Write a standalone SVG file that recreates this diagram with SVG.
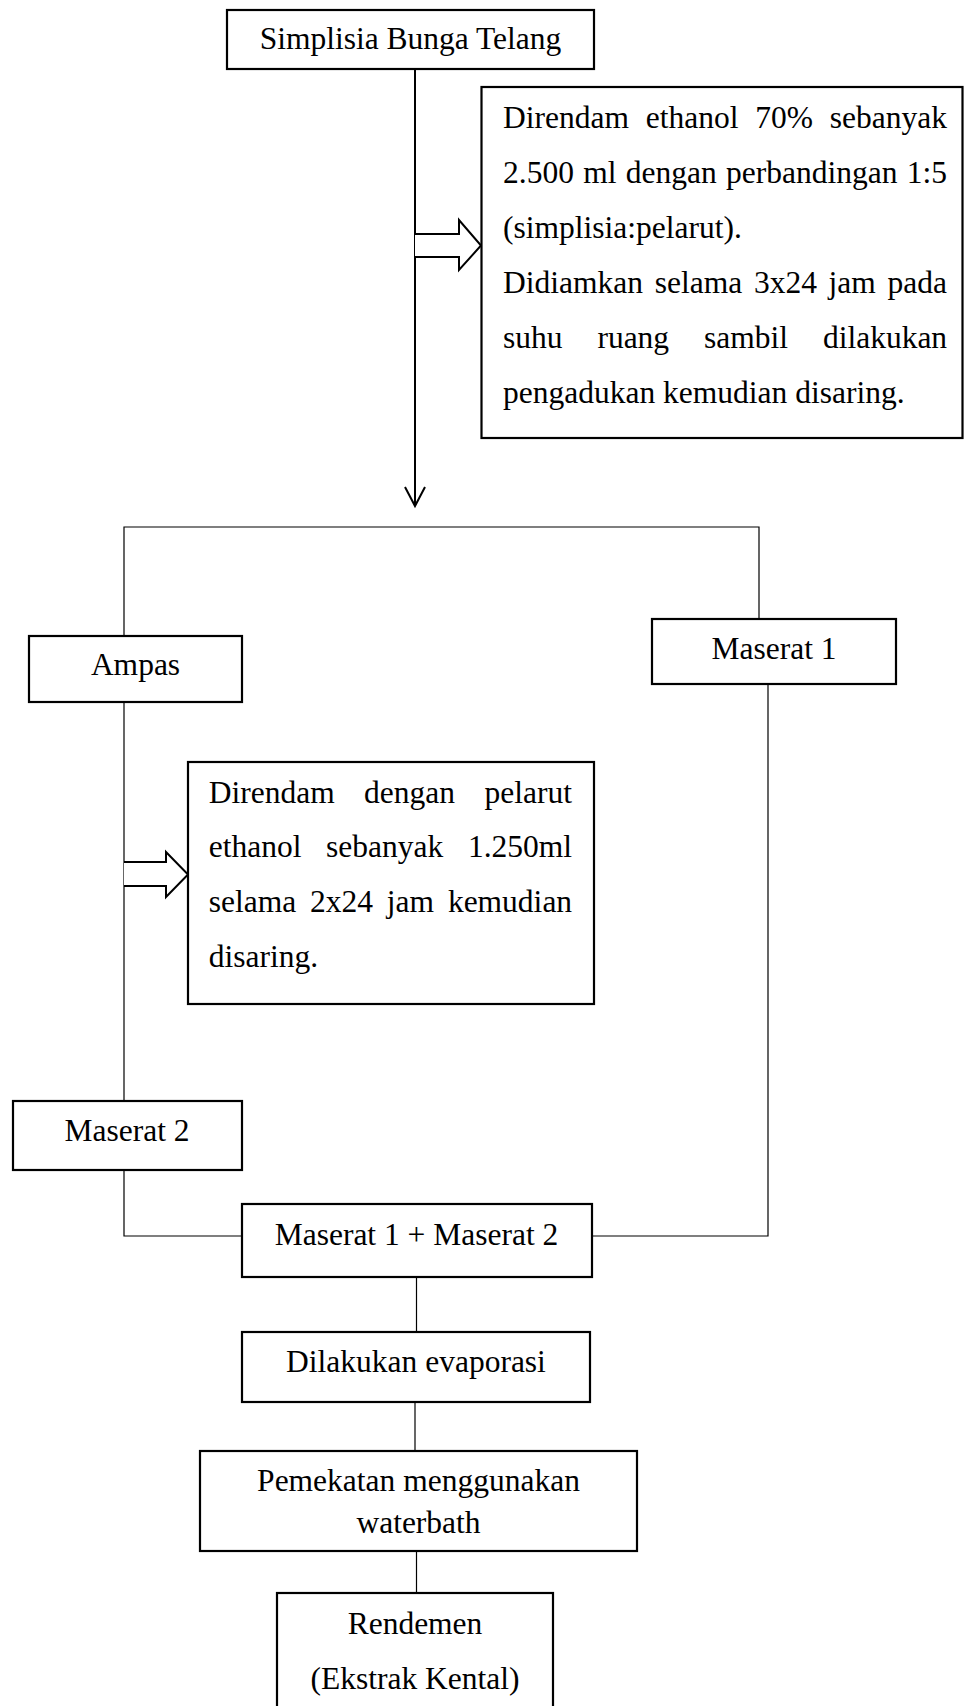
<svg xmlns="http://www.w3.org/2000/svg" width="965" height="1706" viewBox="0 0 965 1706">
<style>
.box{fill:#fff;stroke:#000;stroke-width:2.2}
.thin{fill:none;stroke:#000;stroke-width:1.2}
.thick{fill:none;stroke:#000;stroke-width:2}
.harrow{fill:#fff;stroke:#000;stroke-width:2}
text{font-family:"Liberation Serif","Times New Roman",serif;font-size:31.5px;fill:#000}
.c{text-anchor:middle}
</style>
<rect width="965" height="1706" fill="#fff"/>
<g id="connectors">
<line class="thick" x1="415" y1="69" x2="415" y2="506"/>
<polyline class="thick" points="405,487 415,506 425,487"/>
<path class="harrow" d="M415,234 H459 V220 L481,245.5 L459,270 V257 H415"/>
<polyline class="thin" points="124,635 124,527 759,527 759,619"/>
<line class="thin" x1="124" y1="702" x2="124" y2="1101"/>
<path class="harrow" d="M124,862 H166 V852 L188,874.5 L166,897 V886 H124"/>
<polyline class="thin" points="768,684 768,1236 592,1236"/>
<polyline class="thin" points="124,1170 124,1236 242,1236"/>
<line class="thin" x1="416.5" y1="1277" x2="416.5" y2="1332"/>
<line class="thin" x1="415" y1="1402" x2="415" y2="1451"/>
<line class="thin" x1="416.5" y1="1551" x2="416.5" y2="1593"/>
</g>
<g id="n-simplisia">
<rect class="box" x="227" y="10" width="367" height="59"/>
<text class="c" x="410.5" y="49">Simplisia Bunga Telang</text>
</g>
<g id="n-rendam1">
<rect class="box" x="481.5" y="87" width="481" height="351"/>
<text y="128"><tspan x="503">Direndam</tspan><tspan x="645.8">ethanol</tspan><tspan x="755.3">70%</tspan><tspan x="829.8">sebanyak</tspan></text>
<text y="183"><tspan x="503">2.500</tspan><tspan x="583.2">ml</tspan><tspan x="625.8">dengan</tspan><tspan x="726.1">perbandingan</tspan><tspan x="906.8">1:5</tspan></text>
<text x="503" y="238">(simplisia:pelarut).</text>
<text y="293"><tspan x="503">Didiamkan</tspan><tspan x="654.7">selama</tspan><tspan x="753.9">3x24</tspan><tspan x="828.6">jam</tspan><tspan x="887.5">pada</tspan></text>
<text y="348"><tspan x="503">suhu</tspan><tspan x="597.4">ruang</tspan><tspan x="704">sambil</tspan><tspan x="822.9">dilakukan</tspan></text>
<text x="503" y="403">pengadukan kemudian disaring.</text>
</g>
<g id="n-ampas">
<rect class="box" x="29" y="636" width="213" height="66"/>
<text class="c" x="135.5" y="675">Ampas</text>
</g>
<g id="n-maserat1">
<rect class="box" x="652" y="619" width="244" height="65"/>
<text class="c" x="774" y="659">Maserat 1</text>
</g>
<g id="n-rendam2">
<rect class="box" x="188" y="762" width="406" height="242"/>
<text y="803"><tspan x="208.7">Direndam</tspan><tspan x="364.1">dengan</tspan><tspan x="484.5">pelarut</tspan></text>
<text y="857"><tspan x="208.7">ethanol</tspan><tspan x="326">sebanyak</tspan><tspan x="467.9">1.250ml</tspan></text>
<text y="912"><tspan x="208.7">selama</tspan><tspan x="310">2x24</tspan><tspan x="386.8">jam</tspan><tspan x="447.9">kemudian</tspan></text>
<text x="208.7" y="967">disaring.</text>
</g>
<g id="n-maserat2">
<rect class="box" x="13" y="1101" width="229" height="69"/>
<text class="c" x="127" y="1141">Maserat 2</text>
</g>
<g id="n-gabung">
<rect class="box" x="242" y="1204" width="350" height="73"/>
<text class="c" x="416.5" y="1245">Maserat 1 + Maserat 2</text>
</g>
<g id="n-evaporasi">
<rect class="box" x="242" y="1332" width="348" height="70"/>
<text class="c" x="416" y="1372">Dilakukan evaporasi</text>
</g>
<g id="n-pemekatan">
<rect class="box" x="200" y="1451" width="437" height="100"/>
<text class="c" x="418.5" y="1491">Pemekatan menggunakan</text>
<text class="c" x="418.5" y="1533">waterbath</text>
</g>
<g id="n-rendemen">
<rect class="box" x="277" y="1593" width="276" height="130"/>
<text class="c" x="415" y="1634">Rendemen</text>
<text class="c" x="415" y="1689">(Ekstrak Kental)</text>
</g>
</svg>
